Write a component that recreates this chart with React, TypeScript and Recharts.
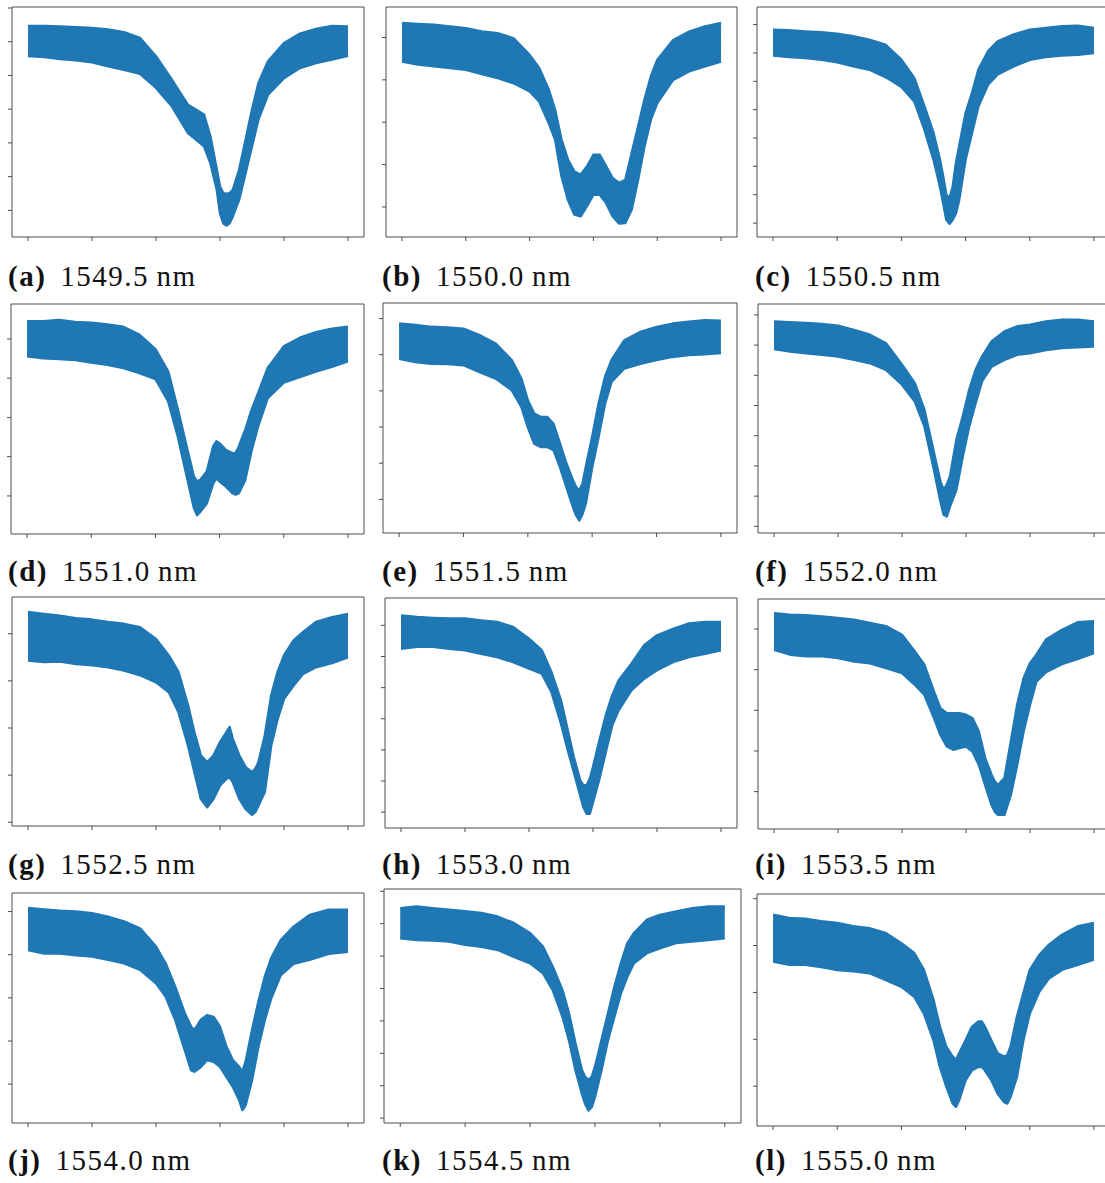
import { Area, ComposedChart, XAxis, YAxis } from "recharts";

// transmission envelopes (lower / upper edge of the noisy trace), arbitrary units
const xA = [0, 0.25, 0.5, 0.75, 1, 1.25, 1.5, 1.75, 2, 2.25, 2.5, 2.75, 2.85, 2.95, 3.0, 3.05, 3.1, 3.15, 3.2, 3.3, 3.4, 3.5, 3.6, 3.75, 4, 4.25, 4.5, 4.75, 5];
const hiA = [5.47, 5.47, 5.45, 5.43, 5.41, 5.36, 5.28, 5.11, 4.57, 3.87, 3.13, 2.84, 2.19, 1.21, 0.71, 0.51, 0.49, 0.51, 0.61, 1.21, 2.09, 2.98, 3.77, 4.42, 4.96, 5.24, 5.38, 5.47, 5.45];
const loA = [4.58, 4.55, 4.49, 4.45, 4.39, 4.27, 4.17, 4.05, 3.63, 3.08, 2.29, 1.9, 1.4, 0.61, -0.08, -0.38, -0.45, -0.38, -0.18, 0.32, 1.11, 1.9, 2.69, 3.43, 3.92, 4.22, 4.37, 4.47, 4.58];

const xB = [0, 0.25, 0.5, 0.75, 1, 1.25, 1.5, 1.75, 2, 2.15, 2.3, 2.4, 2.5, 2.6, 2.7, 2.8, 2.9, 3.0, 3.1, 3.2, 3.3, 3.4, 3.5, 3.6, 3.7, 3.8, 3.9, 4, 4.25, 4.5, 4.75, 5];
const hiB = [4.34, 4.32, 4.3, 4.26, 4.22, 4.14, 4.1, 3.98, 3.59, 3.28, 2.77, 2.29, 1.59, 1.12, 0.84, 0.76, 0.96, 1.23, 1.23, 0.96, 0.68, 0.57, 0.64, 1.27, 1.9, 2.53, 3.08, 3.47, 3.94, 4.14, 4.26, 4.34];
const loB = [3.43, 3.36, 3.32, 3.28, 3.24, 3.14, 3.04, 2.92, 2.73, 2.49, 1.98, 1.59, 0.72, 0.17, -0.18, -0.22, 0.02, 0.29, 0.29, 0.09, -0.22, -0.39, -0.38, -0.06, 0.64, 1.43, 2.06, 2.45, 3.0, 3.2, 3.32, 3.43];

const xC = [0, 0.25, 0.5, 0.75, 1, 1.25, 1.5, 1.75, 2, 2.2, 2.35, 2.5, 2.6, 2.65, 2.7, 2.75, 2.8, 2.85, 2.9, 3.0, 3.1, 3.2, 3.35, 3.5, 3.75, 4, 4.25, 4.5, 4.75, 5];
const hiC = [6.82, 6.8, 6.76, 6.73, 6.68, 6.59, 6.47, 6.29, 5.76, 5.12, 4.18, 3.18, 2.24, 1.65, 1.0, 0.88, 1.29, 2.12, 2.71, 3.88, 4.59, 5.41, 6.06, 6.41, 6.65, 6.82, 6.88, 6.94, 6.96, 6.88];
const loC = [5.91, 5.86, 5.82, 5.76, 5.67, 5.53, 5.41, 5.15, 4.8, 4.29, 3.35, 2.24, 1.29, 0.71, 0.12, -0.02, 0.12, 0.35, 0.82, 2.24, 3.18, 4.12, 4.88, 5.24, 5.53, 5.76, 5.86, 5.91, 5.94, 6.0];

const xD = [0, 0.25, 0.5, 0.75, 1, 1.25, 1.5, 1.75, 2, 2.2, 2.35, 2.5, 2.6, 2.65, 2.7, 2.8, 2.9, 2.95, 3.0, 3.1, 3.2, 3.25, 3.3, 3.4, 3.5, 3.6, 3.75, 4, 4.25, 4.5, 4.75, 5];
const hiD = [4.45, 4.45, 4.48, 4.43, 4.41, 4.37, 4.31, 4.11, 3.74, 3.17, 2.2, 1.17, 0.49, 0.37, 0.41, 0.62, 1.26, 1.39, 1.34, 1.17, 1.09, 1.09, 1.26, 1.69, 2.2, 2.62, 3.26, 3.81, 4.03, 4.17, 4.26, 4.31];
const loD = [3.56, 3.51, 3.49, 3.46, 3.4, 3.34, 3.26, 3.13, 2.98, 2.41, 1.51, 0.41, -0.31, -0.49, -0.4, -0.19, 0.32, 0.45, 0.37, 0.24, 0.07, 0.03, 0.07, 0.41, 1.17, 1.77, 2.49, 2.89, 3.03, 3.17, 3.29, 3.43];

const xE = [0, 0.25, 0.5, 0.75, 1, 1.25, 1.5, 1.75, 1.9, 2.0, 2.1, 2.2, 2.3, 2.4, 2.5, 2.6, 2.7, 2.75, 2.8, 2.85, 2.9, 3.0, 3.1, 3.2, 3.3, 3.5, 3.75, 4, 4.25, 4.5, 4.75, 5];
const hiE = [4.86, 4.82, 4.77, 4.75, 4.72, 4.54, 4.31, 3.85, 3.34, 2.74, 2.37, 2.28, 2.28, 2.09, 1.54, 0.99, 0.53, 0.34, 0.25, 0.43, 0.89, 1.73, 2.65, 3.39, 3.85, 4.4, 4.63, 4.77, 4.86, 4.91, 4.95, 4.94];
const loE = [3.89, 3.8, 3.75, 3.74, 3.71, 3.52, 3.34, 3.02, 2.56, 2.0, 1.54, 1.45, 1.45, 1.36, 0.89, 0.34, -0.21, -0.44, -0.58, -0.4, -0.12, 0.89, 1.73, 2.65, 3.25, 3.62, 3.75, 3.85, 3.94, 3.99, 4.01, 4.05];

const xF = [0, 0.25, 0.5, 0.75, 1, 1.25, 1.5, 1.75, 2, 2.2, 2.35, 2.5, 2.6, 2.65, 2.7, 2.75, 2.85, 2.95, 3.05, 3.15, 3.25, 3.4, 3.6, 3.8, 4, 4.25, 4.5, 4.75, 5];
const hiF = [6.78, 6.76, 6.73, 6.7, 6.64, 6.5, 6.34, 6.06, 5.35, 4.74, 3.86, 2.43, 1.49, 1.21, 1.38, 1.65, 2.87, 3.64, 4.52, 5.18, 5.62, 6.12, 6.45, 6.62, 6.67, 6.78, 6.84, 6.84, 6.78];
const loF = [5.87, 5.79, 5.73, 5.68, 5.62, 5.51, 5.4, 5.18, 4.69, 4.13, 3.31, 1.87, 0.83, 0.39, 0.33, 0.66, 1.21, 2.32, 3.31, 4.08, 4.8, 5.29, 5.51, 5.68, 5.73, 5.84, 5.9, 5.93, 5.95];

const xG = [0, 0.25, 0.5, 0.75, 1, 1.25, 1.5, 1.75, 2, 2.2, 2.35, 2.5, 2.6, 2.7, 2.8, 2.9, 3.0, 3.1, 3.15, 3.2, 3.3, 3.4, 3.5, 3.55, 3.6, 3.7, 3.8, 3.9, 4, 4.15, 4.3, 4.5, 4.75, 5];
const hiG = [4.46, 4.42, 4.38, 4.33, 4.3, 4.25, 4.21, 4.14, 3.89, 3.54, 3.19, 2.48, 1.91, 1.42, 1.27, 1.42, 1.7, 1.91, 2.02, 1.77, 1.42, 1.17, 1.06, 1.13, 1.27, 1.84, 2.69, 3.19, 3.54, 3.86, 4.04, 4.25, 4.35, 4.42];
const loG = [3.43, 3.4, 3.41, 3.36, 3.33, 3.29, 3.22, 3.12, 2.97, 2.76, 2.34, 1.63, 1.06, 0.5, 0.32, 0.5, 0.78, 0.92, 0.96, 0.85, 0.5, 0.28, 0.16, 0.21, 0.35, 0.64, 1.63, 2.19, 2.62, 2.9, 3.15, 3.29, 3.38, 3.5];

const xH = [0, 0.25, 0.5, 0.75, 1, 1.25, 1.5, 1.75, 2, 2.2, 2.35, 2.5, 2.6, 2.7, 2.8, 2.85, 2.9, 2.95, 3.0, 3.1, 3.2, 3.3, 3.4, 3.6, 3.8, 4, 4.25, 4.5, 4.75, 5];
const hiH = [6.32, 6.27, 6.24, 6.22, 6.22, 6.16, 6.11, 5.95, 5.57, 5.2, 4.5, 3.59, 2.68, 1.77, 1.02, 0.86, 0.86, 1.07, 1.45, 2.3, 3.11, 3.75, 4.23, 4.77, 5.36, 5.68, 5.89, 6.06, 6.11, 6.11];
const loH = [5.25, 5.31, 5.31, 5.25, 5.2, 5.09, 4.98, 4.82, 4.61, 4.45, 3.86, 2.84, 2.04, 1.29, 0.54, 0.16, -0.05, -0.05, 0.32, 1.07, 1.93, 2.79, 3.27, 3.91, 4.29, 4.56, 4.82, 4.98, 5.09, 5.2];

const xI = [0, 0.25, 0.5, 0.75, 1, 1.25, 1.5, 1.75, 2, 2.2, 2.35, 2.5, 2.6, 2.7, 2.8, 2.9, 3.0, 3.1, 3.2, 3.3, 3.4, 3.45, 3.5, 3.55, 3.6, 3.7, 3.8, 3.9, 4, 4.1, 4.25, 4.5, 4.75, 5];
const hiI = [4.39, 4.35, 4.34, 4.31, 4.27, 4.23, 4.15, 4.07, 3.86, 3.45, 3.12, 2.46, 2.05, 1.93, 1.93, 1.93, 1.89, 1.81, 1.48, 0.82, 0.41, 0.25, 0.16, 0.25, 0.33, 1.23, 2.14, 2.79, 3.16, 3.37, 3.74, 3.98, 4.17, 4.19];
const loI = [3.49, 3.37, 3.33, 3.33, 3.29, 3.2, 3.16, 3.04, 2.92, 2.63, 2.38, 1.81, 1.4, 1.11, 1.03, 1.07, 1.11, 0.99, 0.66, 0.16, -0.33, -0.49, -0.57, -0.57, -0.57, -0.08, 0.66, 1.48, 2.14, 2.71, 2.94, 3.14, 3.27, 3.41];

const xJ = [0, 0.25, 0.5, 0.75, 1, 1.25, 1.5, 1.75, 2, 2.15, 2.3, 2.45, 2.55, 2.6, 2.7, 2.8, 2.9, 3.0, 3.1, 3.2, 3.3, 3.35, 3.4, 3.5, 3.6, 3.7, 3.8, 3.95, 4.15, 4.4, 4.7, 5];
const hiJ = [4.08, 4.05, 4.02, 4.0, 3.96, 3.88, 3.77, 3.61, 3.19, 2.8, 2.26, 1.64, 1.33, 1.25, 1.49, 1.6, 1.56, 1.33, 0.87, 0.56, 0.4, 0.29, 0.52, 1.25, 1.91, 2.49, 2.92, 3.34, 3.65, 3.92, 4.04, 4.04];
const loJ = [3.11, 3.03, 3.03, 2.99, 2.96, 2.88, 2.8, 2.65, 2.34, 2.03, 1.49, 0.79, 0.32, 0.29, 0.4, 0.56, 0.52, 0.4, 0.17, -0.06, -0.37, -0.6, -0.49, 0.09, 0.87, 1.49, 1.99, 2.53, 2.79, 2.88, 3.02, 3.07];

const xK = [0, 0.25, 0.5, 0.75, 1, 1.25, 1.5, 1.75, 2, 2.2, 2.35, 2.5, 2.6, 2.7, 2.8, 2.85, 2.9, 2.95, 3.0, 3.1, 3.2, 3.3, 3.4, 3.5, 3.6, 3.8, 4, 4.25, 4.5, 4.75, 5];
const hiK = [6.48, 6.53, 6.48, 6.43, 6.38, 6.33, 6.22, 6.02, 5.71, 5.29, 4.67, 3.95, 3.23, 2.3, 1.48, 1.27, 1.17, 1.27, 1.58, 2.4, 3.23, 4.06, 4.78, 5.4, 5.71, 6.12, 6.27, 6.38, 6.48, 6.53, 6.53];
const loK = [5.55, 5.5, 5.48, 5.45, 5.35, 5.29, 5.19, 4.98, 4.78, 4.47, 3.95, 3.13, 2.4, 1.48, 0.75, 0.44, 0.24, 0.34, 0.65, 1.48, 2.4, 3.13, 3.85, 4.37, 4.78, 5.09, 5.24, 5.4, 5.45, 5.5, 5.55];

const xL = [0, 0.25, 0.5, 0.75, 1, 1.25, 1.5, 1.75, 2, 2.2, 2.35, 2.5, 2.6, 2.7, 2.8, 2.85, 2.9, 3.0, 3.1, 3.2, 3.25, 3.3, 3.4, 3.5, 3.6, 3.65, 3.7, 3.8, 3.9, 4, 4.15, 4.3, 4.5, 4.75, 5];
const hiL = [3.66, 3.59, 3.57, 3.52, 3.48, 3.41, 3.37, 3.27, 3.05, 2.84, 2.48, 1.84, 1.27, 0.84, 0.63, 0.56, 0.7, 0.98, 1.27, 1.38, 1.38, 1.27, 0.98, 0.7, 0.63, 0.66, 0.84, 1.48, 1.98, 2.48, 2.8, 3.02, 3.23, 3.41, 3.48];
const loL = [2.66, 2.59, 2.59, 2.54, 2.48, 2.45, 2.41, 2.27, 2.12, 1.91, 1.55, 0.98, 0.41, -0.01, -0.37, -0.44, -0.3, 0.13, 0.34, 0.41, 0.41, 0.34, 0.13, -0.16, -0.34, -0.37, -0.23, 0.2, 0.98, 1.55, 2.02, 2.3, 2.48, 2.59, 2.7];

const letters = ["a", "b", "c", "d", "e", "f", "g", "h", "i", "j", "k", "l"];
const wavelengths = ["1549.5", "1550.0", "1550.5", "1551.0", "1551.5", "1552.0", "1552.5", "1553.0", "1553.5", "1554.0", "1554.5", "1555.0"];
const xTicks = [0, 1, 2, 3, 4, 5];
// number of y ticks and the y range of each panel
const yTickCounts = [7, 5, 8, 5, 6, 8, 5, 7, 5, 5, 8, 5];
const yDomains: [number, number][] = [
  [-0.79, 6.03], [-0.71, 4.72], [-0.49, 7.62],
  [-0.97, 4.89], [-0.93, 5.43], [-0.22, 7.36],
  [-0.08, 4.78], [-0.51, 6.88], [-0.92, 4.74],
  [-0.9, 4.43], [-0.15, 7.07], [-0.85, 4.1],
];

const series = [
  [xA, loA, hiA], [xB, loB, hiB], [xC, loC, hiC],
  [xD, loD, hiD], [xE, loE, hiE], [xF, loF, hiF],
  [xG, loG, hiG], [xH, loH, hiH], [xI, loI, hiI],
  [xJ, loJ, hiJ], [xK, loK, hiK], [xL, loL, hiL],
];

// plot frame of each panel on the page: left, top, width, height
const frames = [
  [12, 7, 352, 230], [386, 7, 351, 230], [757, 7, 353, 230],
  [11, 304, 353, 230], [383, 303, 354, 230], [758, 304, 352, 229],
  [12, 597, 352, 229], [385, 598, 352, 230], [758, 599, 352, 230],
  [12, 893, 352, 230], [384, 889, 357, 234], [757, 894, 353, 232],
];
const captionTops = [262, 557, 850, 1146];
const captionLefts = [8, 382, 755];

const BLUE = "#1f77b4";
const FRAME = "#4d4d4d";
const PAD = 6;
const X_DOMAIN: [number, number] = [-0.25, 5.25];

function Panel({ index }: { index: number }) {
  const [xs, lo, hi] = series[index];
  const rows = xs.map((x, i) => ({ x, band: [lo[i], hi[i]] }));
  const [left, top, width, height] = frames[index];
  const yTicks = Array.from({ length: yTickCounts[index] }, (_, i) => i);
  const blank = () => "";

  // each axis takes 1px, so the margin is one less than the padding
  return (
    <div style={{ position: "absolute", left: left - PAD, top: top - PAD }}>
      <ComposedChart
        width={width + PAD * 2}
        height={height + PAD * 2}
        data={rows}
        margin={{ top: PAD - 1, right: PAD - 1, bottom: PAD - 1, left: PAD - 1 }}
      >
        <XAxis
          dataKey="x"
          type="number"
          domain={X_DOMAIN}
          ticks={xTicks}
          allowDataOverflow
          height={1}
          tickSize={4}
          tickFormatter={blank}
          axisLine={{ stroke: FRAME }}
          tickLine={{ stroke: FRAME }}
        />
        <XAxis
          xAxisId="top"
          orientation="top"
          dataKey="x"
          type="number"
          domain={X_DOMAIN}
          allowDataOverflow
          height={1}
          tick={false}
          tickLine={false}
          axisLine={{ stroke: FRAME }}
        />
        <YAxis
          type="number"
          domain={yDomains[index]}
          ticks={yTicks}
          allowDataOverflow
          width={1}
          tickSize={4}
          tickFormatter={blank}
          axisLine={{ stroke: FRAME }}
          tickLine={{ stroke: FRAME }}
        />
        <YAxis
          yAxisId="right"
          orientation="right"
          type="number"
          domain={yDomains[index]}
          allowDataOverflow
          width={1}
          tick={false}
          tickLine={false}
          axisLine={{ stroke: FRAME }}
        />
        <Area
          dataKey="band"
          type="linear"
          fill={BLUE}
          fillOpacity={1}
          stroke={BLUE}
          strokeWidth={2.5}
          strokeLinejoin="round"
          dot={false}
          activeDot={false}
          isAnimationActive={false}
        />
      </ComposedChart>
    </div>
  );
}

function Caption({ index }: { index: number }) {
  const row = Math.floor(index / 3);
  const col = index % 3;
  return (
    <div
      style={{
        position: "absolute",
        left: captionLefts[col],
        top: captionTops[row],
        fontFamily: '"Liberation Serif", "DejaVu Serif", serif',
        fontSize: 29,
        lineHeight: "29px",
        letterSpacing: 1.5,
        color: "#111",
        whiteSpace: "nowrap",
      }}
    >
      <span style={{ fontWeight: 700 }}>({letters[index]})</span>
      <span style={{ marginLeft: 14 }}>{wavelengths[index]}{"\u2009"}nm</span>
    </div>
  );
}

export default function App() {
  return (
    <div
      style={{
        position: "absolute",
        left: 0,
        top: 0,
        width: 1105,
        height: 1183,
        overflow: "hidden",
        background: "#ffffff",
      }}
    >
      {letters.map((_, i) => (
        <Panel key={`p${i}`} index={i} />
      ))}
      {letters.map((_, i) => (
        <Caption key={`c${i}`} index={i} />
      ))}
    </div>
  );
}
